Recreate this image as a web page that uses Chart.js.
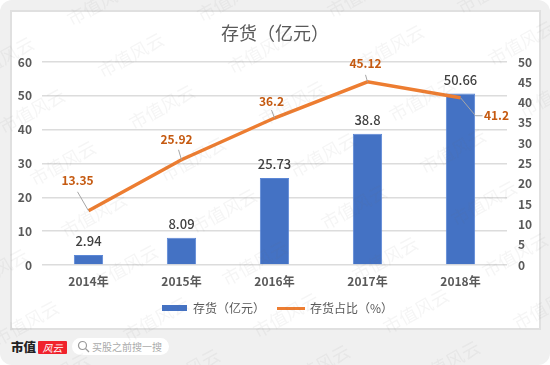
<!DOCTYPE html>
<html>
<head>
<meta charset="utf-8">
<style>
    html, body { margin: 0; padding: 0; background: #fff; }
    #page { position: relative; width: 550px; height: 365px; overflow: hidden; background: #f0f0f0; border-radius: 12px; font-family: "Noto Sans CJK SC", sans-serif; }
    #panel { position: absolute; left: 10px; top: 10px; width: 527px; height: 316px; background: #fff; border: 2px solid #e0e0e0; }
    #chart { position: absolute; left: 0; top: 0; z-index: 2; }
    #logo { position: absolute; left: 11px; top: 337px; font-size: 12.5px; font-weight: 900; color: #222; line-height: 20px; letter-spacing: 0; }
    #badge { position: absolute; left: 38px; top: 341px; width: 29px; height: 13px; background: #f0222c; color: #fff; font-size: 10px; font-style: italic; line-height: 13px; text-align: center; border-radius: 1px; }
    #search { position: absolute; left: 72px; top: 338px; width: 97px; height: 17px; background: #fff; border-radius: 9px; color: #aaa; font-size: 10px; line-height: 17px; padding-left: 20px; box-sizing: border-box; }
    #search svg { position: absolute; left: 5px; top: 2px; }
</style>
</head>
<body>
<div id="page">
    <div id="panel"></div>
    <div id="logo">市值</div>
    <div id="badge">风云</div>
    <div id="search">
        <svg width="13" height="13" viewBox="0 0 13 13"><circle cx="5.5" cy="5.5" r="4" fill="none" stroke="#999" stroke-width="1.2"/><line x1="8.5" y1="8.5" x2="12" y2="12" stroke="#999" stroke-width="1.2"/></svg>
        买股之前搜一搜
    </div>
    <canvas id="chart" width="550" height="365"></canvas>
</div>

<script src="https://cdn.jsdelivr.net/npm/chart.js@4"></script>
<script>
const categories = ["2014年", "2015年", "2016年", "2017年", "2018年"];
const inventoryValues = [2.94, 8.09, 25.73, 38.8, 50.66];
const shareValues = [13.35, 25.92, 36.2, 45.12, 41.2];
const titleText = "存货（亿元）";
const inventoryName = "存货（亿元）";
const shareName = "存货占比（%）";

const fontName = '"Noto Sans CJK SC", sans-serif';

// Where the orange labels sit relative to their point, and the bend of the leader line
const shareLabelOffsets = [[-11, -30], [-5, -20], [-3, -17], [-2, -18], [36, 18]];
const shareLeaders = [
    [[0, 0], [-11, -19]],
    [[0, 0], [-3, -10]],
    [[0, 0], [-3, -8]],
    [[0, 0], [-2, -7]],
    [[0, 0], [15, 18], [22, 18]],
];

// Legend swatches, the library draws these in place of the usual box
function makeSwatch(w, h, color) {
    const c = document.createElement("canvas");
    c.width = w;
    c.height = h;
    const ctx = c.getContext("2d");
    ctx.fillStyle = color;
    ctx.fillRect(0, 0, w, h);
    return c;
}

// Small nudge of the legend, it is not quite centred in the original
const legendNudge = {
    id: "legendNudge",
    afterLayout(chart) {
        chart.legend.left += 2.5;
        chart.legend.right += 2.5;
        chart.legend.top -= 2;
        chart.legend.bottom -= 2;
    },
};

const valueLabels = {
    id: "valueLabels",
    afterDatasetsDraw(chart) {
        const { ctx, scales } = chart;
        ctx.save();

        // leader lines
        ctx.strokeStyle = "#a6a6a6";
        ctx.lineWidth = 1;
        shareValues.forEach((v, i) => {
            const x = scales.x.getPixelForValue(i);
            const y = scales.y2.getPixelForValue(v);
            ctx.beginPath();
            shareLeaders[i].forEach(([dx, dy], k) => {
                if (k === 0) ctx.moveTo(x + dx, y + dy);
                else ctx.lineTo(x + dx, y + dy);
            });
            ctx.stroke();
        });

        ctx.textAlign = "center";
        ctx.textBaseline = "middle";

        // bar labels
        ctx.font = "500 13px " + fontName;
        ctx.fillStyle = "#404040";
        inventoryValues.forEach((v, i) => {
            ctx.fillText(String(v), scales.x.getPixelForValue(i), scales.y.getPixelForValue(v) - 14);
        });

        // line labels
        ctx.font = "bold 12px " + fontName;
        ctx.fillStyle = "#c55a11";
        shareValues.forEach((v, i) => {
            const [dx, dy] = shareLabelOffsets[i];
            ctx.fillText(String(v), scales.x.getPixelForValue(i) + dx, scales.y2.getPixelForValue(v) + dy);
        });
        ctx.restore();
    },
};

// 市值风云 watermark over the whole picture
const watermark = {
    id: "watermark",
    afterDraw(chart) {
        const { ctx } = chart;
        ctx.save();
        ctx.font = "18px " + fontName;
        ctx.fillStyle = "rgba(110,110,110,0.07)";
        ctx.textAlign = "center";
        ctx.textBaseline = "middle";
        for (let row = -8; row <= 8; row++) {
            for (let col = -6; col <= 6; col++) {
                const x = 131 + col * 130 + row * 31;
                const y = 55 - col * 4 + row * 52;
                if (x < -50 || x > 600 || y < -30 || y > 395) continue;
                ctx.save();
                ctx.translate(x, y);
                ctx.rotate(-29 * Math.PI / 180);
                ctx.fillText("市值风云", 0, 0);
                ctx.restore();
            }
        }
        ctx.restore();
    },
};

new Chart(document.getElementById("chart").getContext("2d"), {
    data: {
        labels: categories,
        datasets: [
            {
                type: "line",
                label: shareName,
                data: shareValues,
                yAxisID: "y2",
                borderColor: "#ed7d31",
                borderWidth: 3.5,
                pointRadius: 0,
                tension: 0,
                order: 1,
                pointStyle: makeSwatch(28, 3, "#ed7d31"),
            },
            {
                type: "bar",
                label: inventoryName,
                data: inventoryValues,
                yAxisID: "y",
                backgroundColor: "#4472c4",
                borderColor: "#5b87d6",
                borderWidth: 1,
                barPercentage: 0.315,
                categoryPercentage: 1,
                order: 2,
                pointStyle: makeSwatch(25, 6, "#4472c4"),
            },
        ],
    },
    options: {
        responsive: false,
        animation: false,
        layout: { padding: { top: 4, left: 0, right: 0, bottom: 39 } },
        plugins: {
            title: {
                display: true,
                text: titleText,
                color: "#595959",
                font: { family: fontName, size: 18, weight: "normal", lineHeight: 1.2 },
                padding: { top: 18, bottom: 18.4 },
            },
            legend: {
                position: "bottom",
                labels: {
                    color: "#595959",
                    font: { family: fontName, size: 12 },
                    usePointStyle: true,
                    pointStyleWidth: 25,
                    padding: 14,
                    sort: (a, b) => b.datasetIndex - a.datasetIndex,
                },
            },
            tooltip: { enabled: false },
        },
        scales: {
            x: {
                offset: true,
                grid: { display: false },
                border: { display: false },
                ticks: { color: "#595959", font: { family: fontName, size: 12, weight: "bold" }, padding: 1, maxRotation: 0 },
                afterFit(scale) { scale.height = 25; },
            },
            y: {
                position: "left",
                min: 0,
                max: 60,
                grid: { color: "#dcdcdc", lineWidth: 1.5, drawTicks: false },
                border: { display: false },
                ticks: { stepSize: 10, color: "#595959", font: { family: fontName, size: 12, weight: "bold" }, padding: 10 },
                afterFit(scale) { scale.width = 42; },
            },
            y2: {
                position: "right",
                min: 0,
                max: 50,
                grid: { display: false, drawTicks: false },
                border: { display: false },
                ticks: { stepSize: 5, color: "#595959", font: { family: fontName, size: 12, weight: "bold" }, padding: 11 },
                afterFit(scale) { scale.width = 43; },
            },
        },
    },
    plugins: [legendNudge, valueLabels, watermark],
});
</script>
</body>
</html>
